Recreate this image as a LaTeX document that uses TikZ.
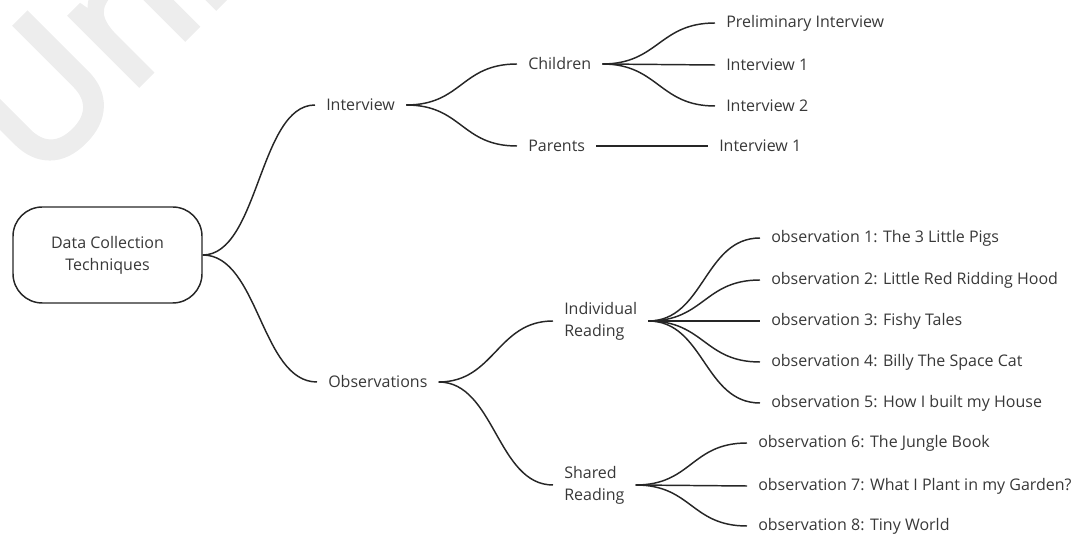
\documentclass[tikz,border=0pt]{standalone}
\usepackage{fontspec}
\setmainfont{Open Sans}
\newfontfamily\markfont[FakeBold=4]{Open Sans}
\begin{document}
\begin{tikzpicture}[x=0.75pt,y=-0.75pt,
  every node/.style={font=\fontsize{12pt}{16.5pt}\selectfont, text=black!78},
  leaf/.style={anchor=west, inner xsep=8.25pt, inner ysep=2pt},
  pair/.style={leaf, align=left},
  rootbox/.style={draw=black!85, line width=1.1pt, rounded corners=22pt,
    minimum width=141.75pt, minimum height=72pt, align=center},
  link/.style={draw=black!85, line width=1.1pt}]
\useasboundingbox (0,0) rectangle (1076,534);

% faint watermark in the top left corner
\node[anchor=base west, rotate=45, inner sep=0pt, text=black!7,
      font=\markfont\fontsize{133pt}{133pt}\selectfont] (wm) at (37,185) {Uni};

% root
\node[rootbox] (root) at (107.5,255) {Data Collection\\Techniques};

% first level
\node[leaf] (int) at (315,105) {Interview};
\node[leaf] (obs) at (317,382) {Observations};

% interview branch
\node[leaf] (chi) at (517,64) {Children};
\node[leaf] (par) at (517,146) {Parents};
\node[leaf] (pre) at (715,23) {Preliminary Interview};
\node[leaf] (ci1) at (715,65) {Interview 1};
\node[leaf] (ci2) at (715,106) {Interview 2};
\node[leaf] (pi1) at (708,146) {Interview 1};

% observation branch
\node[pair] (ind) at (553,321) {Individual\\Reading};
\node[pair] (sha) at (553,485) {Shared\\Reading};
\node[leaf] (o1) at (760,238) {observation 1: The 3 Little Pigs};
\node[leaf] (o2) at (760,280) {observation 2: Little Red Ridding Hood};
\node[leaf] (o3) at (760,321) {observation 3: Fishy Tales};
\node[leaf] (o4) at (760,362) {observation 4: Billy The Space Cat};
\node[leaf] (o5) at (760,403) {observation 5: How I built my House};
\node[leaf] (o6) at (747,443) {observation 6: The Jungle Book};
\node[leaf] (o7) at (747,486) {observation 7: What I Plant in my Garden?};
\node[leaf] (o8) at (747,526) {observation 8: Tiny World};

% curved connectors, horizontal at both ends
\newcommand\branchlink[2]{\draw[link] (#1.east) .. controls +(56,0) and +(-56,0) .. (#2.west);}
\branchlink{root}{int}
\branchlink{root}{obs}
\branchlink{int}{chi}
\branchlink{int}{par}
\branchlink{chi}{pre}
\branchlink{chi}{ci1}
\branchlink{chi}{ci2}
\branchlink{par}{pi1}
\branchlink{obs}{ind}
\branchlink{obs}{sha}
\foreach \o in {o1,o2,o3,o4,o5} {\branchlink{ind}{\o}}
\foreach \o in {o6,o7,o8} {\branchlink{sha}{\o}}
\end{tikzpicture}
\end{document}
